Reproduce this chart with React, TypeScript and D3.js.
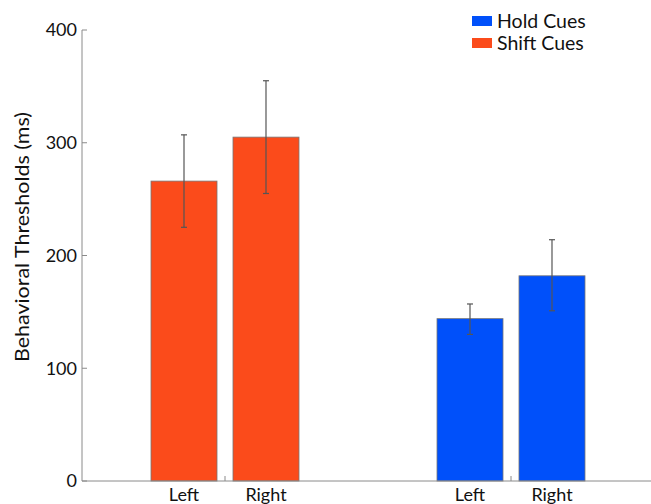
import React, { useEffect, useRef } from 'react';
import * as d3 from 'd3';

const groups = ['Shift Cues', 'Hold Cues'];
const sides = ['Left', 'Right'];
const shiftMeans = [266, 305];
const shiftErrLow = [225, 255];
const shiftErrHigh = [307, 355];
const holdMeans = [144, 182];
const holdErrLow = [130, 151];
const holdErrHigh = [157, 214];
const yTicks = [0, 100, 200, 300, 400];
const legendOrder = ['Hold Cues', 'Shift Cues'];

const colors: Record<string, string> = {
  'Shift Cues': '#fb4b1b',
  'Hold Cues': '#0050fa',
};

export default function App() {
  const ref = useRef<SVGSVGElement>(null);

  useEffect(() => {
    const width = 651;
    const height = 504;
    const svg = d3.select(ref.current);
    svg.selectAll('*').remove();

    const font = 'Lato, "Open Sans", sans-serif';
    const axisColor = '#8a8a8a';

    const x = d3.scaleLinear().domain([0.5, 2.5]).range([82, 654]);
    const y = d3.scaleLinear().domain([0, 400]).range([481, 30]);
    const sub = d3.scaleBand().domain(sides).range([-74, 74]).paddingInner(0.195);

    const rows = [
      { group: groups[0], means: shiftMeans, lo: shiftErrLow, hi: shiftErrHigh },
      { group: groups[1], means: holdMeans, lo: holdErrLow, hi: holdErrHigh },
    ];
    const data = rows.flatMap((r, gi) =>
      sides.map((s, si) => ({
        group: r.group,
        gx: gi + 1,
        side: s,
        v: r.means[si],
        lo: r.lo[si],
        hi: r.hi[si],
      }))
    );

    // bars
    svg
      .append('g')
      .selectAll('rect')
      .data(data)
      .enter()
      .append('rect')
      .attr('x', (d) => x(d.gx) + (sub(d.side) as number))
      .attr('y', (d) => y(d.v))
      .attr('width', sub.bandwidth())
      .attr('height', (d) => y(0) - y(d.v))
      .attr('fill', (d) => colors[d.group])
      .attr('stroke', '#777')
      .attr('stroke-width', 0.8);

    // error bars
    const eb = svg.append('g').attr('stroke', '#555').attr('stroke-width', 1.2);
    data.forEach((d) => {
      const cx = x(d.gx) + (sub(d.side) as number) + sub.bandwidth() / 2;
      eb.append('line').attr('x1', cx).attr('x2', cx).attr('y1', y(d.lo)).attr('y2', y(d.hi));
      [d.lo, d.hi].forEach((e) => {
        eb.append('line')
          .attr('x1', cx - 3)
          .attr('x2', cx + 3)
          .attr('y1', y(e))
          .attr('y2', y(e));
      });
    });

    // axes lines
    const ax = svg.append('g').attr('stroke', axisColor).attr('stroke-width', 1);
    ax.append('line').attr('x1', x(0.5)).attr('x2', x(0.5)).attr('y1', y(400)).attr('y2', y(0));
    ax.append('line').attr('x1', x(0.5)).attr('x2', width).attr('y1', y(0)).attr('y2', y(0));
    yTicks.forEach((t) => {
      ax.append('line').attr('x1', x(0.5)).attr('x2', x(0.5) + 5).attr('y1', y(t)).attr('y2', y(t));
    });
    [1, 2].forEach((g) => {
      ax.append('line').attr('x1', x(g)).attr('x2', x(g)).attr('y1', y(0)).attr('y2', y(0) - 5);
    });

    // y tick labels
    svg
      .append('g')
      .selectAll('text')
      .data(yTicks)
      .enter()
      .append('text')
      .attr('x', x(0.5) - 5)
      .attr('y', (d) => y(d))
      .attr('dy', '0.35em')
      .attr('text-anchor', 'end')
      .style('font-family', font)
      .style('font-size', '18px')
      .attr('fill', '#111')
      .text((d) => d);

    // x labels
    svg
      .append('g')
      .selectAll('text')
      .data(data)
      .enter()
      .append('text')
      .attr('x', (d) => x(d.gx) + (sub(d.side) as number) + sub.bandwidth() / 2)
      .attr('y', y(0) + 20)
      .attr('text-anchor', 'middle')
      .style('font-family', font)
      .style('font-size', '18px')
      .attr('fill', '#111')
      .text((d) => d.side);

    // y axis label
    svg
      .append('text')
      .attr('transform', `translate(29, 237) rotate(-90)`)
      .attr('text-anchor', 'middle')
      .attr('textLength', 250)
      .attr('lengthAdjust', 'spacingAndGlyphs')
      .style('font-family', font)
      .style('font-size', '19px')
      .attr('fill', '#111')
      .text('Behavioral Thresholds (ms)');

    // legend
    const lg = svg.append('g').attr('transform', 'translate(472, 16)');
    legendOrder.forEach((name, i) => {
      lg.append('rect')
        .attr('x', 0)
        .attr('y', i * 22)
        .attr('width', 20)
        .attr('height', 10)
        .attr('fill', colors[name]);
      lg.append('text')
        .attr('x', 25)
        .attr('y', i * 22 + 5)
        .attr('dy', '0.36em')
        .style('font-family', font)
        .style('font-size', '19.5px')
        .attr('fill', '#111')
        .text(name);
    });

    svg.attr('width', width).attr('height', height);
  }, []);

  return (
    <svg
      ref={ref}
      width={651}
      height={504}
      style={{ position: 'absolute', left: 0, top: 0, background: '#fff' }}
    />
  );
}
